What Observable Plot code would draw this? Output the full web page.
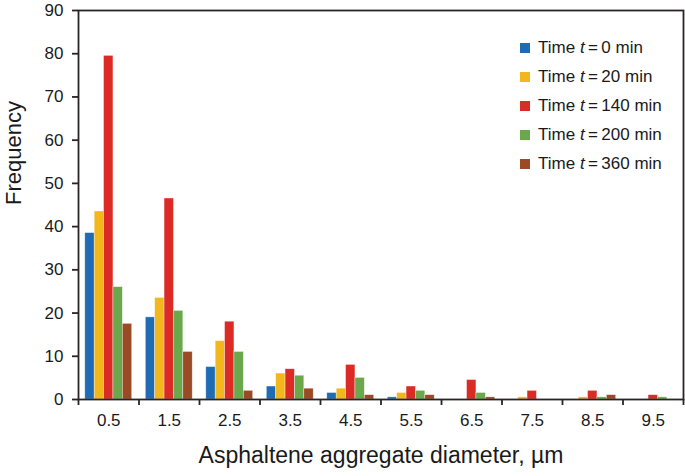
<!DOCTYPE html>
<html>
<head>
<meta charset="utf-8">
<script src="https://cdn.jsdelivr.net/npm/d3@7"></script>
<script src="https://cdn.jsdelivr.net/npm/@observablehq/plot@0.6"></script>
<style>
  html, body { margin: 0; padding: 0; background: #fff; }
  #wrap { position: relative; width: 685px; height: 476px; font-family: Arial, "Liberation Sans", sans-serif; }
  #legend { position: absolute; left: 520px; top: 33px; font-size: 17px; color: #1a1a1a; }
  #legend .row { display: flex; align-items: center; height: 29px; }
  #legend .sw { width: 10px; height: 10px; margin-right: 8px; }
</style>
</head>
<body>
<div id="wrap"></div>
<script>
const diameters = [0.5, 1.5, 2.5, 3.5, 4.5, 5.5, 6.5, 7.5, 8.5, 9.5];
const seriesTimes = [0, 20, 140, 200, 360];
const seriesColors = ["#1f6cb4", "#f2b71d", "#dc2a24", "#6ba84c", "#9a4a24"];
const t0   = [38.5, 19,   7.5,  3,   1.5, 0.5, 0,   0,   0,   0];
const t20  = [43.5, 23.5, 13.5, 6,   2.5, 1.5, 0,   0.5, 0.5, 0];
const t140 = [79.5, 46.5, 18,   7,   8,   3,   4.5, 2,   2,   1];
const t200 = [26,   20.5, 11,   5.5, 5,   2,   1.5, 0,   0.5, 0.5];
const t360 = [17.5, 11,   2,    2.5, 1,   1,   0.5, 0,   1,   0];
const yTicks = [0, 10, 20, 30, 40, 50, 60, 70, 80, 90];
const xBoundaries = [0, 1, 2, 3, 4, 5, 6, 7, 8, 9, 10];

const allSeries = [t0, t20, t140, t200, t360];
const rows = [];
allSeries.forEach((vals, j) => {
  vals.forEach((v, i) => rows.push({d: diameters[i], j, v, series: `t = ${seriesTimes[j]} min`}));
});

const barW = 0.155;
const start = 0.5 - 2.5 * barW;
const ink = "#2a2525";

const chart = Plot.plot({
  width: 685,
  height: 476,
  marginLeft: 78,
  marginRight: 2,
  marginTop: 10,
  marginBottom: 77,
  style: {fontFamily: "Arial, 'Liberation Sans', sans-serif", fontSize: "17px", color: "#1a1a1a", background: "#fff"},
  x: {domain: [0, 10]},
  y: {domain: [0, 90]},
  color: {domain: seriesTimes.map(t => `t = ${t} min`), range: seriesColors},
  marks: [
    Plot.rectY(rows, {
      x1: r => r.d - 0.5 + start + r.j * barW,
      x2: r => r.d - 0.5 + start + (r.j + 1) * barW,
      y1: 0,
      y2: "v",
      fill: "series",
      stroke: "white",
      strokeWidth: 0.6,
      strokeOpacity: 0.6
    }),
    Plot.axisY({ticks: yTicks, tickSize: 6, tickPadding: 9, label: null, stroke: ink, strokeWidth: 1.8}),
    Plot.axisX({ticks: xBoundaries, tickSize: 6, tickFormat: () => "", label: null, stroke: ink, strokeWidth: 1.8}),
    Plot.axisX({ticks: diameters, tickSize: 0, tickPadding: 14, tickFormat: d => String(d), label: null}),
    Plot.frame({stroke: ink, strokeWidth: 1.8}),
    Plot.text(["Frequency"], {frameAnchor: "left", rotate: -90, dx: -65, fontSize: 22, fill: "#1a1a1a"}),
    Plot.text(["Asphaltene aggregate diameter, \u00b5m"], {frameAnchor: "bottom", dy: 63, fontSize: 23, fill: "#1a1a1a"})
  ]
});

const wrap = document.getElementById("wrap");
wrap.appendChild(chart);

const legend = document.createElement("div");
legend.id = "legend";
seriesTimes.forEach((t, j) => {
  const row = document.createElement("div");
  row.className = "row";
  row.innerHTML = `<span class="sw" style="background:${seriesColors[j]}"></span><span>Time <i>t</i>\u2009=\u2009${t} min</span>`;
  legend.appendChild(row);
});
wrap.appendChild(legend);
</script>
</body>
</html>
